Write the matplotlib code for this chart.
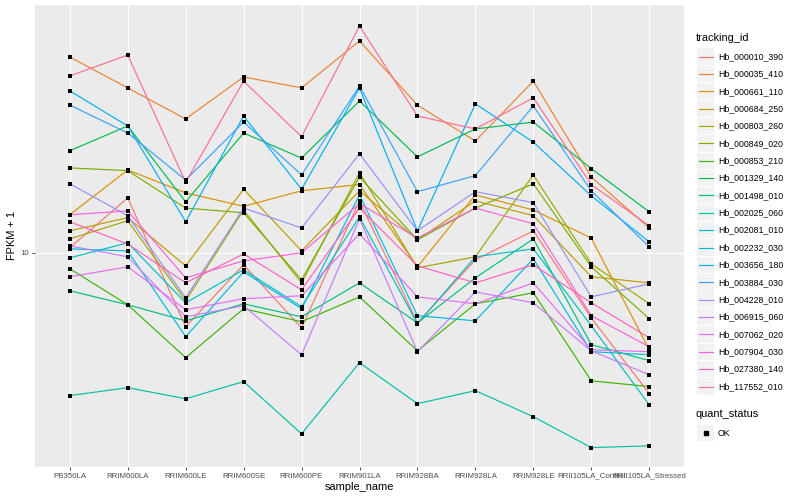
import matplotlib.pyplot as plt
from matplotlib.patches import Rectangle
from matplotlib.lines import Line2D

plt.rcParams['font.family'] = ['Liberation Sans', 'DejaVu Sans']

samples = ['PB350LA', 'RRIM600LA', 'RRIM600LE', 'RRIM600SE', 'RRIM600PE', 'RRIM901LA',
           'RRIM928BA', 'RRIM928LA', 'RRIM928LE', 'RRII105LA_Control', 'RRII105LA_Stressed']

tracking_ids = ['Hb_000010_390', 'Hb_000035_410', 'Hb_000661_110', 'Hb_000684_250',
                'Hb_000803_260', 'Hb_000849_020', 'Hb_000853_210', 'Hb_001329_140',
                'Hb_001498_010', 'Hb_002025_060', 'Hb_002081_010', 'Hb_002232_030',
                'Hb_003656_180', 'Hb_003884_030', 'Hb_004228_010', 'Hb_006915_060',
                'Hb_007062_020', 'Hb_007904_030', 'Hb_027380_140', 'Hb_117552_010']

# ggplot default hue palette, 20 levels
colors = ['#F8766D', '#EA8331', '#D89000', '#C09B00', '#A3A500', '#7CAE00', '#39B600',
          '#00BB4E', '#00BF7D', '#00C1A3', '#00BFC4', '#00BAE0', '#00B0F6', '#35A2FF',
          '#9590FF', '#C77CFF', '#E76BF3', '#FA62DB', '#FF62BC', '#FF6C91']

# FPKM + 1 per gene, one value per sample
hb_000010_390 = [10.39, 15.25, 5.67, 9.12, 5.62, 14.9, 5.84, 9.48, 11.84, 6.07, 3.39]
hb_000035_410 = [45.0, 35.5, 27.97, 38.6, 35.5, 50.9, 31.1, 23.6, 37.4, 17.9, 12.1]
hb_000661_110 = [13.4, 18.9, 15.85, 14.3, 16.1, 16.9, 8.98, 15.6, 13.9, 11.2, 4.75]
hb_000684_250 = [11.84, 13.1, 9.05, 16.3, 10.15, 16.1, 11.05, 14.9, 13.3, 8.32, 7.94]
hb_000803_260 = [11.13, 12.8, 6.92, 13.9, 7.94, 18.5, 8.91, 9.70, 18.2, 9.19, 6.76]
hb_000849_020 = [19.2, 18.8, 14.1, 13.6, 8.13, 17.9, 11.05, 14.1, 17.0, 8.98, 6.03]
hb_000853_210 = [8.85, 6.71, 4.47, 6.51, 5.89, 7.13, 4.71, 6.76, 7.36, 3.74, 3.58]
hb_001329_140 = [21.9, 26.5, 14.8, 25.1, 20.7, 32.1, 20.9, 25.9, 27.3, 19.1, 13.7]
hb_001498_010 = [7.47, 6.71, 5.93, 6.76, 6.12, 7.94, 5.84, 8.25, 11.13, 4.94, 4.37]
hb_002025_060 = [3.34, 3.55, 3.26, 3.72, 2.49, 4.30, 3.14, 3.47, 2.84, 2.24, 2.27]
hb_002081_010 = [9.62, 10.8, 6.81, 8.78, 6.61, 13.18, 5.80, 9.70, 10.31, 5.71, 3.11]
hb_002232_030 = [10.31, 10.15, 5.25, 8.64, 6.51, 15.6, 6.17, 5.93, 9.55, 4.68, 4.57]
hb_003656_180 = [34.7, 26.5, 12.7, 28.6, 16.3, 35.5, 11.84, 31.4, 23.4, 15.5, 10.88]
hb_003884_030 = [31.1, 25.1, 17.5, 27.3, 18.2, 36.0, 16.0, 18.1, 30.9, 16.1, 10.47]
hb_004228_010 = [17.0, 13.3, 7.08, 14.1, 12.1, 21.4, 11.84, 16.0, 14.7, 7.13, 7.88]
hb_006915_060 = [10.55, 9.70, 6.12, 6.66, 4.57, 12.98, 4.68, 7.41, 6.81, 4.71, 3.92]
hb_007062_020 = [8.32, 8.98, 6.46, 7.03, 7.19, 11.57, 7.13, 6.76, 7.94, 4.75, 4.68]
hb_007904_030 = [13.4, 13.8, 8.25, 9.40, 10.0, 14.6, 11.2, 14.1, 12.5, 6.17, 4.86]
hb_027380_140 = [12.7, 10.7, 7.94, 9.92, 7.53, 14.1, 9.05, 7.94, 9.12, 6.81, 5.21]
hb_117552_010 = [38.9, 45.7, 17.2, 37.4, 24.4, 57.1, 28.6, 25.9, 32.9, 16.9, 12.3]

series = [hb_000010_390, hb_000035_410, hb_000661_110, hb_000684_250, hb_000803_260,
          hb_000849_020, hb_000853_210, hb_001329_140, hb_001498_010, hb_002025_060,
          hb_002081_010, hb_002232_030, hb_003656_180, hb_003884_030, hb_004228_010,
          hb_006915_060, hb_007062_020, hb_007904_030, hb_027380_140, hb_117552_010]

W, H = 800, 500


def fp(x, y):
    # pixel position -> figure fraction
    return x / W, 1 - y / H


fig = plt.figure(figsize=(8, 5), dpi=100)
ax = fig.add_axes([35 / W, 1 - 467 / H, (684 - 35) / W, (467 - 5) / H])
ax.set_facecolor('#EBEBEB')
for s in ax.spines.values():
    s.set_visible(False)

x = list(range(len(samples)))
for vals, c in zip(series, colors):
    ax.plot(x, vals, color=c, lw=0.85, zorder=2)
for vals in series:
    ax.scatter(x, vals, marker='s', s=5, color='black', linewidths=0, zorder=3)

ax.set_yscale('log')
ax.set_ylim(1.93, 67.1)
ax.set_xlim(-0.6, len(samples) - 0.4)
ax.set_yticks([10])
ax.set_yticklabels(['10'])
ax.minorticks_off()
ax.set_xticks(x)
ax.set_xticklabels(samples)
ax.tick_params(colors='#333333', labelcolor='#4D4D4D', labelsize=5.7, length=2, width=0.6, pad=2)
ax.grid(True, color='white', lw=0.9)
ax.set_axisbelow(True)

ax.set_xlabel('sample_name', fontsize=7.9, labelpad=2)
ax.set_ylabel('FPKM + 1', fontsize=7.9, labelpad=3)

# legend: tracking_id
fig.text(*fp(696, 38), 'tracking_id', fontsize=7.9, va='center', ha='left')
row0, step = 56.5, 17.37
for i, (name, c) in enumerate(zip(tracking_ids, colors)):
    yc = row0 + i * step
    fig.add_artist(Rectangle(fp(697, yc + 8.2), 17 / W, 16.4 / H, transform=fig.transFigure,
                             facecolor='#F2F2F2', edgecolor='none'))
    x0, y0 = fp(698.5, yc)
    x1, _ = fp(712.5, yc)
    fig.add_artist(Line2D([x0, x1], [y0, y0], transform=fig.transFigure, color=c, lw=0.85))
    fig.text(*fp(718, yc), name, fontsize=6.3, va='center', ha='left')

# legend: quant_status
fig.text(*fp(696, 414), 'quant_status', fontsize=7.9, va='center', ha='left')
yc = 433
fig.add_artist(Rectangle(fp(697, yc + 8.2), 17 / W, 16.4 / H, transform=fig.transFigure,
                         facecolor='#F2F2F2', edgecolor='none'))
fig.add_artist(Line2D([fp(705.5, yc)[0]], [fp(705.5, yc)[1]], transform=fig.transFigure,
                      marker='s', markersize=2.2, color='black', lw=0))
fig.text(*fp(718, yc), 'OK', fontsize=6.3, va='center', ha='left')

fig.savefig('out.png', dpi=100)
